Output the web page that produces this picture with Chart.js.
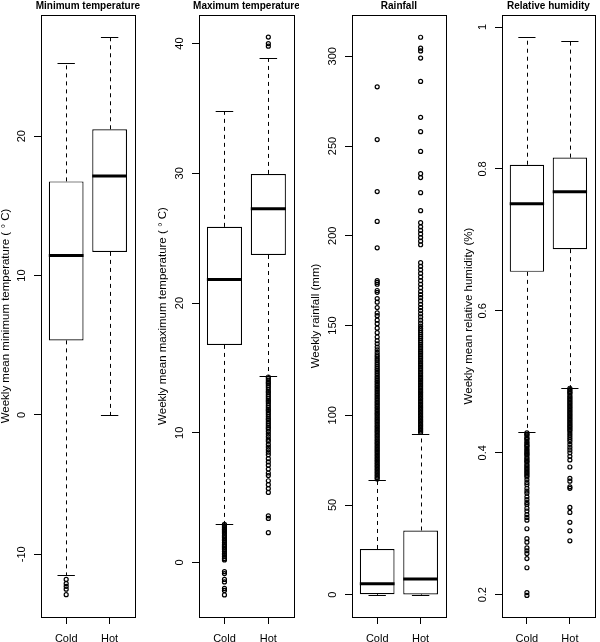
<!DOCTYPE html>
<html>
<head>
<meta charset="utf-8">
<script src="https://cdn.jsdelivr.net/npm/chart.js@4.4.1/dist/chart.umd.min.js"></script>
<style>
  body { margin: 0; background: #fff; }
  #wrap { position: relative; width: 600px; height: 642px; overflow: hidden; background: #fff; }
  #wrap canvas { position: absolute; top: 0; }
</style>
</head>
<body>
<div id="wrap">
  <canvas id="minTemp" width="140" height="642" style="left:0"></canvas>
  <canvas id="maxTemp" width="149" height="642" style="left:150px"></canvas>
  <canvas id="rain" width="151" height="642" style="left:300px"></canvas>
  <canvas id="humid" width="150" height="642" style="left:450px"></canvas>
</div>
<script>
// Gruppi (asse x)
const gruppi = ["Cold", "Hot"];

// Minimum temperature
const minTempLow = [-11.46, 0.0];
const minTempQ1 = [5.35, 11.7];
const minTempMed = [11.44, 17.14];
const minTempQ3 = [16.76, 20.5];
const minTempHigh = [25.25, 27.14];
const minTempOutCold = [-11.8, -12.1, -12.3, -12.5, -12.9];
const minTempOutHot = [];
const minTempTicks = [-10, 0, 10, 20];

// Maximum temperature
const maxTempLow = [3.0, 14.38];
const maxTempQ1 = [16.77, 23.7];
const maxTempMed = [21.82, 27.26];
const maxTempQ3 = [25.87, 29.95];
const maxTempHigh = [34.77, 38.92];
const maxTempOutCold = [2.95, 2.85, 2.8, 2.7, 2.6, 2.55, 2.45, 2.35, 2.25, 2.1, 2.0, 1.9, 1.8, 1.7, 1.55,
  1.4, 1.3, 1.2, 1.1, 1.0, 0.85, 0.7, 0.6, 0.45, 0.3, 0.2, -0.7, -0.85, -1.3, -1.5, -2.0, -2.15, -2.5];
const maxTempOutHot = [39.8, 40.0, 40.5, 14.3, 14.2, 14.05, 13.9, 13.8, 13.65, 13.5, 13.35, 13.2, 13.1,
  12.95, 12.8, 12.65, 12.5, 12.4, 12.25, 12.1, 11.95, 11.8, 11.7, 11.55, 11.4, 11.25, 11.1, 11.0, 10.85,
  10.7, 10.55, 10.4, 10.3, 10.1, 9.9, 9.7, 9.5, 9.35, 9.1, 8.9, 8.7, 8.5, 8.3, 8.0, 7.75, 7.5, 7.2, 6.9,
  6.7, 6.3, 6.0, 5.7, 5.4, 3.6, 3.4, 2.3];
const maxTempTicks = [0, 10, 20, 30, 40];

// Rainfall
const rainLow = [0, 0];
const rainQ1 = [0.3, 0.2];
const rainMed = [6.1, 8.8];
const rainQ3 = [25.5, 35.8];
const rainHigh = [64.2, 89.8];
const rainOutCold = [64.5, 65.3, 66.1, 67, 67.8, 68.6, 69.5, 70.3, 71.2, 72, 72.9, 73.7, 74.6, 75.4, 76.3,
  77.1, 78, 78.8, 79.7, 80.5, 81.4, 82.2, 83.1, 84, 84.8, 85.7, 86.5, 87.4, 88.3, 89.1, 90, 90.9, 91.7,
  92.6, 93.5, 94.3, 95.2, 96.1, 97, 97.8, 98.7, 99.6, 100.5, 101.3, 102.2, 103.1, 104, 104.9, 105.8,
  106.7, 107.5, 108.4, 109.3, 110.2, 111.1, 112, 113, 113.9, 114.8, 115.7, 116.6, 117.6, 118.5, 119.4,
  120.4, 121.3, 122.3, 123.2, 124.2, 125.2, 126.1, 127.1, 128.2, 129.2, 130.3, 131.3, 132.5, 133.6, 135,
  136.5, 138, 139.8, 141.5, 143.6, 146, 148.5, 151, 153, 155.5, 157, 160, 163, 165, 168.5, 169.5, 173,
  174, 175, 193.3, 208, 224.6, 253.6, 283];
const rainOutHot = [90.4, 91.2, 92, 92.8, 93.7, 94.5, 95.3, 96.2, 97, 97.8, 98.7, 99.5, 100.4, 101.2, 102.1,
  102.9, 103.8, 104.6, 105.5, 106.4, 107.2, 108.1, 109, 109.8, 110.7, 111.6, 112.5, 113.3, 114.2, 115.1,
  116, 116.9, 117.8, 118.7, 119.6, 120.5, 121.4, 122.3, 123.2, 124.1, 125.1, 126, 126.9, 127.9, 128.8,
  129.8, 130.7, 131.7, 132.6, 133.6, 134.6, 135.5, 136.5, 137.5, 138.5, 139.5, 140.6, 141.6, 142.7, 143.8,
  144.9, 146, 147.2, 148.4, 149.7, 151.3, 153, 154.8, 156.5, 158.3, 160, 161.8, 163.7, 165.5, 167.2, 169,
  171, 173, 175, 177, 179, 181, 183, 185, 195, 197, 199, 201, 203, 205, 207.3, 214, 224, 232.4, 234.6,
  247, 258, 266, 286, 299, 303, 304.5, 310.6];
const rainTicks = [0, 50, 100, 150, 200, 250, 300];

// Relative humidity
const humidLow = [0.429, 0.492];
const humidQ1 = [0.655, 0.687];
const humidMed = [0.751, 0.768];
const humidQ3 = [0.806, 0.816];
const humidHigh = [0.986, 0.981];
const humidOutCold = [0.428, 0.426, 0.425, 0.422, 0.42, 0.419, 0.416, 0.414, 0.412, 0.41, 0.409, 0.406,
  0.404, 0.402, 0.4, 0.398, 0.397, 0.394, 0.392, 0.39, 0.388, 0.387, 0.384, 0.382, 0.38, 0.378, 0.376,
  0.374, 0.372, 0.37, 0.368, 0.366, 0.362, 0.358, 0.355, 0.35, 0.346, 0.343, 0.338, 0.334, 0.33, 0.327,
  0.322, 0.318, 0.313, 0.309, 0.305, 0.293, 0.279, 0.274, 0.266, 0.262, 0.258, 0.251, 0.238, 0.203, 0.199];
const humidOutHot = [0.491, 0.489, 0.487, 0.485, 0.484, 0.481, 0.479, 0.477, 0.475, 0.473, 0.471, 0.469,
  0.467, 0.465, 0.463, 0.461, 0.459, 0.457, 0.455, 0.453, 0.451, 0.449, 0.447, 0.445, 0.443, 0.441, 0.439,
  0.437, 0.435, 0.433, 0.431, 0.428, 0.425, 0.422, 0.419, 0.416, 0.412, 0.408, 0.404, 0.4, 0.395, 0.39,
  0.38, 0.364, 0.36, 0.352, 0.35, 0.323, 0.316, 0.302, 0.29, 0.276];
const humidTicks = [0.2, 0.4, 0.6, 0.8, 1];

const FONT = "'Liberation Sans', Arial, Helvetica, sans-serif";

const pannelli = [
  { id: "minTemp", titolo: "Minimum temperature", asse: "Weekly mean minimum temperature ( \u00B0 C)",
    low: minTempLow, q1: minTempQ1, med: minTempMed, q3: minTempQ3, high: minTempHigh,
    out: [minTempOutCold, minTempOutHot], ticks: minTempTicks, range: [-14.5, 28.7],
    axisW: 41, padR: 2, titlePad: -1 },
  { id: "maxTemp", titolo: "Maximum temperature", asse: "Weekly mean maximum temperature ( \u00B0 C)",
    low: maxTempLow, q1: maxTempQ1, med: maxTempMed, q3: maxTempQ3, high: maxTempHigh,
    out: [maxTempOutCold, maxTempOutHot], ticks: maxTempTicks, range: [-4.2, 42.2],
    axisW: 49, padR: 2, titlePad: 6 },
  { id: "rain", titolo: "Rainfall", asse: "Weekly rainfall (mm)",
    low: rainLow, q1: rainQ1, med: rainMed, q3: rainQ3, high: rainHigh,
    out: [rainOutCold, rainOutHot], ticks: rainTicks, range: [-12.4, 323],
    axisW: 52, padR: 2, titlePad: 9 },
  { id: "humid", titolo: "Relative humidity", asse: "Weekly mean relative humidity (%)",
    low: humidLow, q1: humidQ1, med: humidMed, q3: humidQ3, high: humidHigh,
    out: [humidOutCold, humidOutHot], ticks: humidTicks, range: [0.1686, 1.017],
    axisW: 52, padR: 1, titlePad: 12 }
];

// baffi, mediane, cornice, etichette ruotate e titolo
function boxPlugin(p) {
  return {
    id: "box_" + p.id,
    afterDatasetsDraw(chart) {
      const ctx = chart.ctx, xs = chart.scales.x, ys = chart.scales.y;
      const a = chart.chartArea;
      ctx.save();
      ctx.strokeStyle = "#000";
      gruppi.forEach((g, i) => {
        const cx = Math.round(xs.getPixelForValue(i + 1)) + 0.5;
        const capL = xs.getPixelForValue(i + 1 - 0.2), capR = xs.getPixelForValue(i + 1 + 0.2);
        const boxL = xs.getPixelForValue(i + 1 - 0.4), boxR = xs.getPixelForValue(i + 1 + 0.4);
        const yLow = Math.round(ys.getPixelForValue(p.low[i])) + 0.5;
        const yHigh = Math.round(ys.getPixelForValue(p.high[i])) + 0.5;
        const yQ1 = ys.getPixelForValue(p.q1[i]);
        const yQ3 = ys.getPixelForValue(p.q3[i]);
        // baffi tratteggiati
        ctx.lineWidth = 1;
        ctx.setLineDash([4, 4]);
        ctx.beginPath();
        ctx.moveTo(cx, yQ3); ctx.lineTo(cx, yHigh);
        ctx.moveTo(cx, yQ1); ctx.lineTo(cx, yLow);
        ctx.stroke();
        ctx.setLineDash([]);
        ctx.beginPath();
        ctx.moveTo(capL, yHigh); ctx.lineTo(capR, yHigh);
        ctx.moveTo(capL, yLow); ctx.lineTo(capR, yLow);
        ctx.stroke();
        // mediana
        ctx.lineWidth = 3;
        ctx.beginPath();
        const yMed = ys.getPixelForValue(p.med[i]);
        ctx.moveTo(boxL, yMed); ctx.lineTo(boxR, yMed);
        ctx.stroke();
      });
      // cornice
      ctx.lineWidth = 1;
      ctx.strokeRect(Math.round(a.left) + 0.5, Math.round(a.top) + 0.5,
        Math.round(a.right - a.left), Math.round(a.bottom - a.top));
      // etichette asse y ruotate
      ctx.fillStyle = "#000";
      ctx.font = "11px " + FONT;
      ctx.textAlign = "center";
      ctx.textBaseline = "middle";
      p.ticks.forEach(v => {
        ctx.save();
        ctx.translate(a.left - 19, ys.getPixelForValue(v));
        ctx.rotate(-Math.PI / 2);
        ctx.fillText(String(v), 0, 0);
        ctx.restore();
      });
      // titolo
      ctx.font = "bold 10px " + FONT;
      ctx.fillText(p.titolo, (a.left + a.right) / 2, 6);
      ctx.restore();
    }
  };
}

pannelli.forEach(p => {
  new Chart(document.getElementById(p.id), {
    type: "bar",
    data: {
      datasets: [
        {
          type: "bar",
          data: gruppi.map((g, i) => ({ x: i + 1, y: [p.q1[i], p.q3[i]] })),
          backgroundColor: "#fff",
          borderColor: "#000",
          borderWidth: 1.2,
          borderSkipped: false,
          barPercentage: 0.8,
          categoryPercentage: 1
        },
        {
          type: "scatter",
          data: p.out.flatMap((arr, i) => arr.map(v => ({ x: i + 1, y: v }))),
          pointStyle: "circle",
          pointRadius: 2,
          pointBorderWidth: 1.2,
          pointBorderColor: "#000",
          pointBackgroundColor: "rgba(0,0,0,0)"
        }
      ]
    },
    options: {
      responsive: false,
      animation: false,
      layout: { padding: { top: 15, right: p.padR, left: 0, bottom: 0 } },
      plugins: { legend: { display: false }, tooltip: { enabled: false } },
      scales: {
        x: {
          type: "linear", min: 0.42, max: 2.58, offset: false,
          afterBuildTicks: s => { s.ticks = gruppi.map((g, i) => ({ value: i + 1 })); },
          afterFit: s => { s.height = 25; },
          ticks: { callback: (v, i) => gruppi[i], font: { family: FONT, size: 11 }, color: "#000",
                   padding: 8, autoSkip: false, maxRotation: 0 },
          grid: { drawOnChartArea: false, offset: false, tickLength: 7, color: "#000" },
          border: { display: false }
        },
        y: {
          type: "linear", min: p.range[0], max: p.range[1],
          afterBuildTicks: s => { s.ticks = p.ticks.map(v => ({ value: v })); },
          afterFit: s => { s.width = p.axisW; },
          ticks: { display: false },
          grid: { drawOnChartArea: false, tickLength: 7, color: "#000" },
          border: { display: false },
          title: { display: true, text: p.asse, color: "#000",
                   font: { family: FONT, size: 11.5 }, padding: { top: p.titlePad, bottom: 0 } }
        }
      }
    },
    plugins: [boxPlugin(p)]
  });
});
</script>
</body>
</html>
